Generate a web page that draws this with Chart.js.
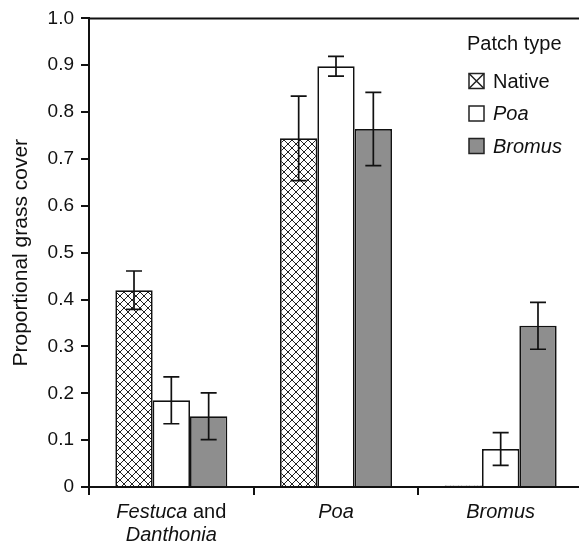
<!DOCTYPE html>
<html>
<head>
<meta charset="utf-8">
<script src="https://cdn.jsdelivr.net/npm/chart.js@4.4.1/dist/chart.umd.min.js"></script>
<style>
html,body{margin:0;padding:0;background:#fff;overflow:hidden;width:579px;height:546px;}
#wrap{position:relative;width:585px;height:546px;}
</style>
</head>
<body>
<div id="wrap"><canvas id="c" width="585" height="546"></canvas></div>
<script>
// ---- data ----
const categories = [['Festuca and', 'Danthonia'], ['Poa'], ['Bromus']];
const italicWords = ['Festuca', 'Danthonia', 'Poa', 'Bromus'];
const seriesNames = ['Native', 'Poa', 'Bromus'];
const nativeVals = [0.42, 0.744, 0.003];
const poaVals = [0.185, 0.898, 0.081];
const bromusVals = [0.151, 0.764, 0.344];
const nativeErr = [0.041, 0.09, 0];
const poaErr = [0.05, 0.021, 0.035];
const bromusErr = [0.05, 0.078, 0.05];
const legendTitle = 'Patch type';
const yTitle = 'Proportional grass cover';
const yTicks = [0, 0.1, 0.2, 0.3, 0.4, 0.5, 0.6, 0.7, 0.8, 0.9, 1.0];

const FONT = '"Liberation Sans", Arial, Helvetica, sans-serif';
const GREY = '#8e8e8e';

// crosshatch pattern
const pc = document.createElement('canvas');
pc.width = 8; pc.height = 8;
const px = pc.getContext('2d');
px.fillStyle = '#fff'; px.fillRect(0,0,8,8);
px.strokeStyle = '#222'; px.lineWidth = 1;
px.beginPath();
px.moveTo(0,0); px.lineTo(8,8);
px.moveTo(0,8); px.lineTo(8,0);
px.stroke();
const ctx = document.getElementById('c').getContext('2d');
const hatch = ctx.createPattern(pc, 'repeat');

const errs = [nativeErr, poaErr, bromusErr];

const extras = {
  id: 'extras',
  afterDatasetsDraw(chart) {
    const c = chart.ctx;
    const ys = chart.scales.y;
    const area = chart.chartArea;
    c.save();
    c.strokeStyle = '#111'; c.lineWidth = 1.7;
    chart.data.datasets.forEach((ds, di) => {
      const meta = chart.getDatasetMeta(di);
      meta.data.forEach((bar, i) => {
        const e = errs[di][i];
        if (!e) return;
        const v = ds.data[i];
        const x = bar.x;
        const yt = ys.getPixelForValue(v + e);
        const yb = ys.getPixelForValue(v - e);
        c.beginPath();
        c.moveTo(x, yt); c.lineTo(x, yb);
        c.moveTo(x - 8, yt); c.lineTo(x + 8, yt);
        c.moveTo(x - 8, yb); c.lineTo(x + 8, yb);
        c.stroke();
      });
    });
    c.lineWidth = 2; c.strokeStyle = '#111';
    c.beginPath();
    c.moveTo(area.left - 1, area.top); c.lineTo(chart.width, area.top);
    c.stroke();
    c.restore();
  },
  afterDraw(chart) {
    const c = chart.ctx;
    const xs = chart.scales.x;
    c.save();
    c.fillStyle = '#111';
    c.textBaseline = 'middle';
    categories.forEach((lines, i) => {
      const cx = xs.getPixelForValue(i);
      lines.forEach((line, li) => {
        const y = 512 + li * 23;
        const words = line.split(' ');
        const parts = words.map((w, wi) => ({
          t: (wi < words.length - 1) ? w + ' ' : w,
          it: italicWords.includes(w)
        }));
        let total = 0;
        parts.forEach(p => {
          c.font = (p.it ? 'italic ' : '') + '20px ' + FONT;
          p.w = c.measureText(p.t).width;
          total += p.w;
        });
        let x = cx - total / 2;
        c.textAlign = 'left';
        parts.forEach(p => {
          c.font = (p.it ? 'italic ' : '') + '20px ' + FONT;
          c.fillText(p.t, x, y);
          x += p.w;
        });
      });
    });
    c.textAlign = 'left';
    c.font = '20px ' + FONT;
    c.fillText(legendTitle, 467, 44);
    seriesNames.forEach((name, i) => {
      const cy = 81 + i * 32.5;
      const bx = 469, bw = 15;
      c.fillStyle = i === 2 ? GREY : '#fff';
      c.fillRect(bx, cy - bw/2, bw, bw);
      c.strokeStyle = '#222'; c.lineWidth = 1.5;
      if (i === 0) {
        c.beginPath();
        c.moveTo(bx, cy - bw/2); c.lineTo(bx + bw, cy + bw/2);
        c.moveTo(bx, cy + bw/2); c.lineTo(bx + bw, cy - bw/2);
        c.stroke();
      }
      c.strokeRect(bx, cy - bw/2, bw, bw);
      c.fillStyle = '#111';
      c.font = (italicWords.includes(name) ? 'italic ' : '') + '20px ' + FONT;
      c.fillText(name, 493, cy + 1);
    });
    c.restore();
  }
};

new Chart(ctx, {
  type: 'bar',
  data: {
    labels: categories.map(l => l.join(' ')),
    datasets: [
      { label: seriesNames[0], data: nativeVals, backgroundColor: hatch, borderColor: '#111', borderWidth: 1.7 },
      { label: seriesNames[1], data: poaVals, backgroundColor: '#ffffff', borderColor: '#111', borderWidth: 1.7 },
      { label: seriesNames[2], data: bromusVals, backgroundColor: GREY, borderColor: '#111', borderWidth: 1.7 }
    ]
  },
  options: {
    responsive: false,
    animation: false,
    devicePixelRatio: 1,
    layout: { padding: { top: 16, right: 2, left: 0, bottom: 0 } },
    datasets: { bar: { categoryPercentage: 0.68, barPercentage: 1.0 } },
    plugins: { legend: { display: false }, tooltip: { enabled: false } },
    scales: {
      x: {
        grid: { display: true, drawOnChartArea: false, offset: true, tickLength: 8, color: '#111', lineWidth: 2 },
        border: { display: true, color: '#111', width: 2 },
        ticks: { display: false },
        afterFit(s) { s.height = 546 - 487; }
      },
      y: {
        min: 0, max: 1,
        afterBuildTicks(s) { s.ticks = yTicks.map(v => ({ value: v })); },
        grid: { display: true, drawOnChartArea: false, tickLength: 8, color: '#111', lineWidth: 2 },
        border: { display: true, color: '#111', width: 2 },
        ticks: {
          padding: 7,
          color: '#111',
          font: { family: FONT, size: 19 },
          callback: v => v === 0 ? '0' : v.toFixed(1)
        },
        title: { display: true, text: yTitle, color: '#111', font: { family: FONT, size: 21 }, padding: { top: 9, bottom: 0 } },
        afterFit(s) { s.width = 89; }
      }
    }
  },
  plugins: [extras]
});
</script>
</body>
</html>
